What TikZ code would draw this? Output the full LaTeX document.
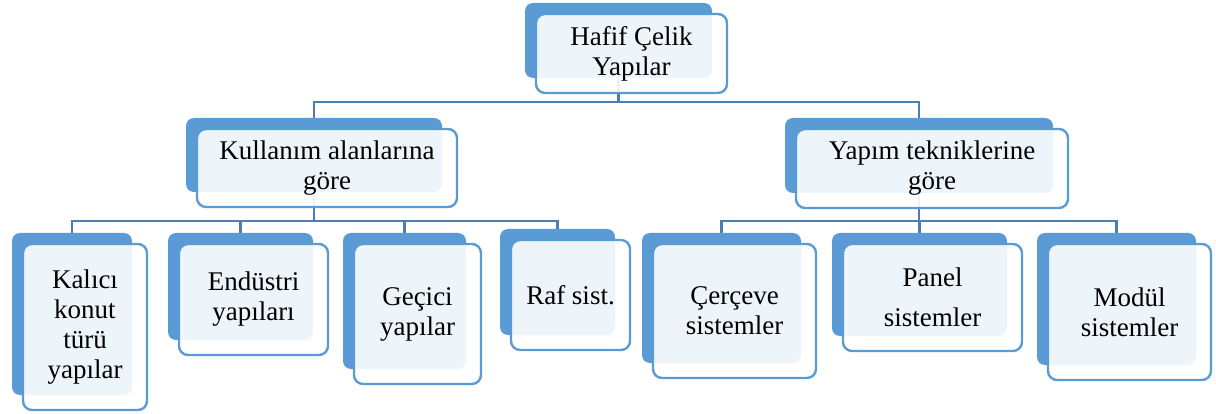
\documentclass[tikz,border=0pt]{standalone}
\usepackage{fontspec}
\setmainfont{Liberation Serif}
\pgfdeclarelayer{background}
\pgfsetlayers{background,main}
\definecolor{backblue}{HTML}{5B9BD5}
\definecolor{edgeblue}{HTML}{5B9BD5}
\definecolor{linkblue}{HTML}{4A7EBB}
\tikzset{
  backbox/.style={fill=backblue, draw=none, rounded corners=8pt, inner sep=0pt},
  frontbox/.style={draw=edgeblue, line width=2.4pt, fill=white, fill opacity=0.9, text opacity=1,
    rounded corners=9pt, inner sep=0pt, align=center, text=black,
    font=\fontsize{27}{30}\selectfont},
  conn/.style={draw=linkblue, line width=2.2pt},
}
\newcommand\twobox[6]{%
  \node[backbox, minimum width={#4-#2}, minimum height={#5-#3}] (#1b) at ({(#2+#4)/2},{(#3+#5)/2}) {};
  \node[frontbox, minimum width={#4-#2+4}, minimum height={#5-#3+4}] (#1) at ({(#2+#4)/2+13},{(#3+#5)/2+13}) {#6};
}
\begin{document}
\begin{tikzpicture}[x=1pt,y=-1pt]
\useasboundingbox (0,0) rectangle (1216,414);
\twobox{top}{525}{3}{712}{78}{Hafif Çelik\\Yapılar}
\twobox{kul}{186}{118}{442}{192}{Kullanım alanlarına\\göre}
\twobox{yap}{785}{118}{1053}{193}{Yapım tekniklerine\\göre}
\twobox{kal}{12}{233}{132}{395}{Kalıcı\\konut\\türü\\yapılar}
\twobox{end}{168}{233}{313}{340}{Endüstri\\yapıları}
\twobox{gec}{343}{233}{466}{369}{Geçici\\yapılar}
\twobox{raf}{500}{229}{615}{335}{Raf sist.}
\twobox{cer}{642}{233}{801}{363}{Çerçeve\\sistemler}
\twobox{pan}{832}{233}{1007}{336}{Panel\\[10pt]sistemler}
\twobox{mod}{1037}{233}{1196}{365}{Modül\\sistemler}
\coordinate (busA) at (0,102);
\coordinate (busB) at (0,221);
\begin{pgfonlayer}{background}
\draw[conn] (topb.south) -- (topb.south |- busA) -| (kulb.north);
\draw[conn] (topb.south |- busA) -| (yapb.north);
\draw[conn] (kulb.south) -- (kulb.south |- busB) -| (kalb.north);
\draw[conn] (kulb.south |- busB) -| (endb.north);
\draw[conn] (kulb.south |- busB) -| (gecb.north);
\draw[conn] (kulb.south |- busB) -| (rafb.north);
\draw[conn] (yapb.south) -- (yapb.south |- busB) -| (cerb.north);
\draw[conn] (yapb.south |- busB) -| (panb.north);
\draw[conn] (yapb.south |- busB) -| (modb.north);
\end{pgfonlayer}
\end{tikzpicture}
\end{document}
